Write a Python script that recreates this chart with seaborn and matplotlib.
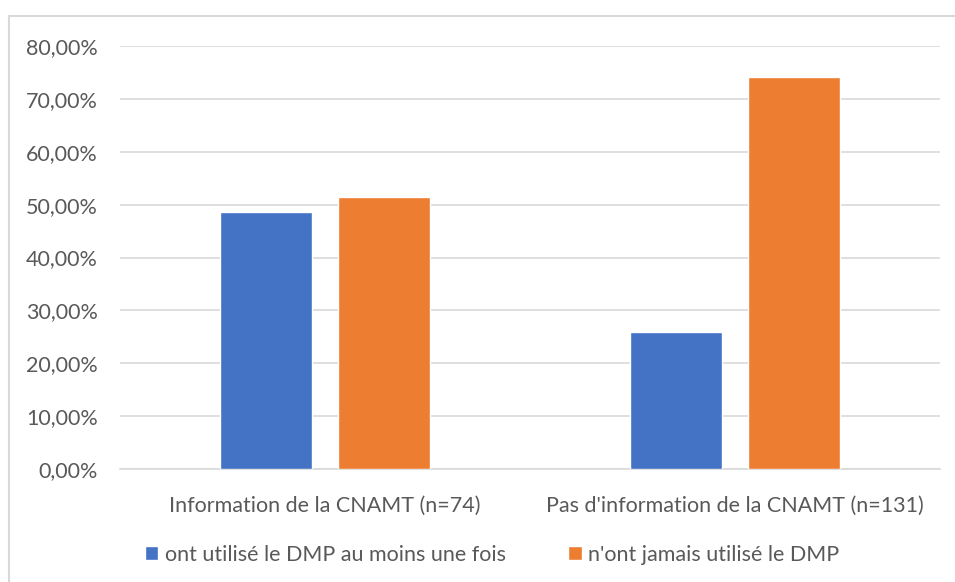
import pandas as pd
import seaborn as sns
import matplotlib.pyplot as plt
from matplotlib.patches import Rectangle
from matplotlib.ticker import FuncFormatter

# Données
categories = ["Information de la CNAMT (n=74)", "Pas d'information de la CNAMT (n=131)"]
series = ["ont utilisé le DMP au moins une fois", "n'ont jamais utilisé le DMP"]
utilise = [48.65, 25.95]
jamais = [51.35, 74.05]
couleurs = ["#4472C4", "#ED7D31"]

df = pd.DataFrame(
    {
        "Catégorie": categories * 2,
        "Pourcentage": utilise + jamais,
        "Groupe": [series[0]] * 2 + [series[1]] * 2,
    }
)

sns.set_style("white")
plt.rcParams["font.family"] = ["Lato", "DejaVu Sans"]
texte = "#595959"

fig = plt.figure(figsize=(9.55, 5.82), dpi=100)
ax = fig.add_axes([120 / 955, 1 - 469 / 582, 820 / 955, 423 / 582])

sns.barplot(
    data=df,
    x="Catégorie",
    y="Pourcentage",
    hue="Groupe",
    palette=couleurs,
    width=0.571,
    gap=0.214,
    saturation=1,
    ax=ax,
    zorder=3,
)

ax.set_ylim(0, 80)
ax.set_xlim(-0.5, 1.5)
ax.set_yticks(range(0, 81, 10))
ax.yaxis.set_major_formatter(FuncFormatter(lambda v, p: f"{v:.2f}%".replace(".", ",")))
ax.grid(axis="y", color="#d9d9d9", linewidth=1.2, zorder=0)
ax.set_axisbelow(True)
for s in ["top", "right", "left"]:
    ax.spines[s].set_visible(False)
ax.spines["bottom"].set_color("#d9d9d9")
ax.spines["bottom"].set_linewidth(1.2)
ax.tick_params(axis="both", length=0, labelsize=15.5, colors=texte)
ax.tick_params(axis="y", pad=16)
ax.tick_params(axis="x", pad=19)
ax.set_xlabel("")
ax.set_ylabel("")

leg = ax.legend(
    loc="center",
    bbox_to_anchor=(0.4537, -0.203),
    ncol=2,
    frameon=False,
    fontsize=15.5,
    handlelength=0.62,
    handleheight=0.62,
    handletextpad=0.3,
    columnspacing=2.9,
)
for t in leg.get_texts():
    t.set_color(texte)

# Cadre du graphique
fig.add_artist(
    Rectangle((9 / 955, -0.1), 1.2, 1 - 16 / 582 + 0.1, transform=fig.transFigure,
              fill=False, edgecolor="#d9d9d9", linewidth=1.5)
)

plt.savefig("out.png", dpi=100)
